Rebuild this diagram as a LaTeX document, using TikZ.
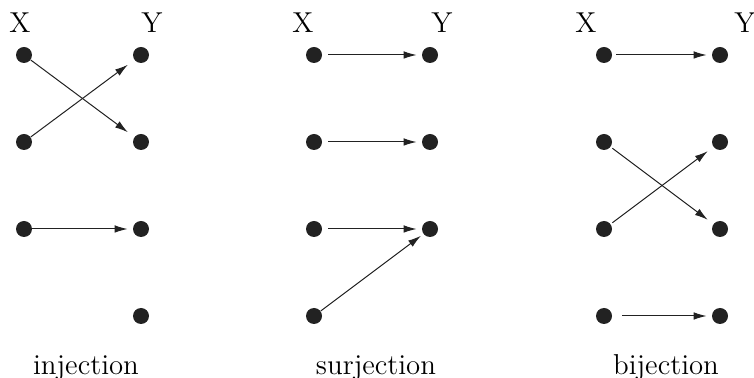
\documentclass[tikz,border=0pt]{standalone}
\usetikzlibrary{arrows.meta}
\definecolor{dotc}{HTML}{222222}
\begin{document}
\begin{tikzpicture}[x=0.5pt,y=-0.5pt,
  dotn/.style={circle,fill=dotc,draw=none,inner sep=0pt,minimum size=8pt},
  arr/.style={-{Latex[length=6.5pt,width=3.8pt]},line width=0.5pt,draw=dotc},
  setlab/.style={font=\Large,anchor=base,inner sep=0pt},
  lab/.style={font=\Large,anchor=base,inner sep=0pt}]
\useasboundingbox (0,0) rectangle (754,378);
% labels X / Y
\node[setlab] (ix) at (20,33) {X};
\node[setlab] (iy) at (152,33) {Y};
\node[setlab] (sx) at (303,33) {X};
\node[setlab] (sy) at (442,33) {Y};
\node[setlab] (bx) at (586,33) {X};
\node[setlab] (by) at (745,33) {Y};
% injection
\node[dotn] (a1) at (24,55) {};
\node[dotn] (a2) at (24,142) {};
\node[dotn] (a3) at (24,229) {};
\node[dotn] (b1) at (141,55) {};
\node[dotn] (b2) at (141,142) {};
\node[dotn] (b3) at (141,229) {};
\node[dotn] (b4) at (141,316) {};
\draw[arr,shorten >=4pt] (a1) -- (b2);
\draw[arr,shorten >=4pt] (a2) -- (b1);
\draw[arr,shorten >=2.5pt] (a3) -- (b3);
% surjection
\node[dotn] (c1) at (314,55) {};
\node[dotn] (c2) at (314,142) {};
\node[dotn] (c3) at (314,229) {};
\node[dotn] (c4) at (314,316) {};
\node[dotn] (d1) at (430,55) {};
\node[dotn] (d2) at (430,142) {};
\node[dotn] (d3) at (430,229) {};
\draw[arr,shorten <=3pt,shorten >=2.5pt] (c1) -- (d1);
\draw[arr,shorten <=3pt,shorten >=2.5pt] (c2) -- (d2);
\draw[arr,shorten <=3pt,shorten >=2.5pt] (c3) -- (d3);
\draw[arr,shorten >=1.5pt] (c4) -- (d3);
% bijection
\node[dotn] (e1) at (604,55) {};
\node[dotn] (e2) at (604,142) {};
\node[dotn] (e3) at (604,229) {};
\node[dotn] (e4) at (604,316) {};
\node[dotn] (f1) at (720,55) {};
\node[dotn] (f2) at (720,142) {};
\node[dotn] (f3) at (720,229) {};
\node[dotn] (f4) at (720,316) {};
\draw[arr,shorten <=2pt,shorten >=2.5pt] (e1) -- (f1);
\draw[arr,shorten <=1pt,shorten >=3.5pt] (e2) -- (f3);
\draw[arr,shorten <=1pt,shorten >=3.5pt] (e3) -- (f2);
\draw[arr,shorten <=5pt,shorten >=2.5pt] (e4) -- (f4);
% captions
\node[lab] (li) at (86,375) {injection};
\node[lab] (ls) at (376,375) {surjection};
\node[lab] (lb) at (666,375) {bijection};
\end{tikzpicture}
\end{document}
